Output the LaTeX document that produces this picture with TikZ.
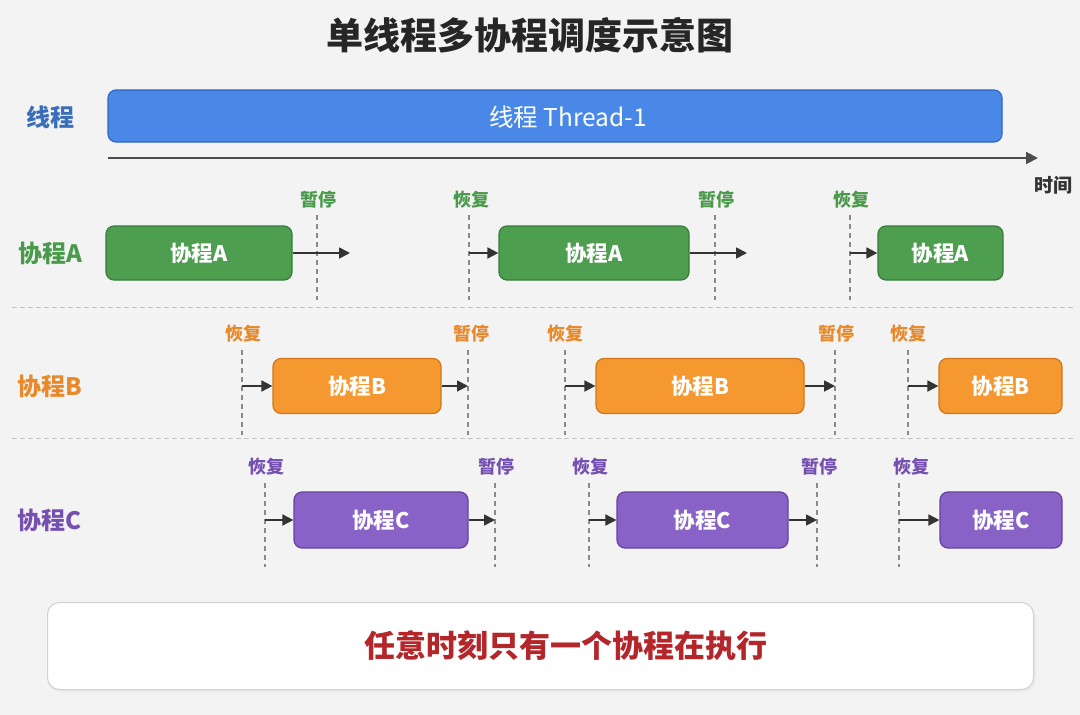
\documentclass[tikz,border=0pt]{standalone}
\usepackage{fontspec}
\setmainfont{Noto Sans CJK SC}
\usetikzlibrary{arrows.meta}
\definecolor{bgc}{HTML}{F3F3F3}
\definecolor{blueF}{HTML}{4A88E8}
\definecolor{blueD}{HTML}{2E66C2}
\definecolor{blueT}{HTML}{3A6EBA}
\definecolor{greenF}{HTML}{4E9E50}
\definecolor{greenD}{HTML}{377A39}
\definecolor{greenT}{HTML}{4A9A4C}
\definecolor{orangeF}{HTML}{F4982F}
\definecolor{orangeD}{HTML}{D2761A}
\definecolor{orangeT}{HTML}{E8892B}
\definecolor{purpleF}{HTML}{8862C6}
\definecolor{purpleD}{HTML}{6443A3}
\definecolor{purpleT}{HTML}{7650B0}
\definecolor{redT}{HTML}{B3262A}
\definecolor{arrowc}{HTML}{333333}
\definecolor{dashc}{HTML}{8A8A8A}
\definecolor{sepc}{HTML}{C4C4C4}
\begin{document}
\begin{tikzpicture}[x=1pt,y=-1pt,
  cobox/.style={rounded corners=8pt, line width=1.2pt, text=white, font=\fontsize{21.5}{25}\selectfont\bfseries, inner sep=0pt},
  boxA/.style={cobox, fill=greenF, draw=greenD, minimum height=54pt},
  boxB/.style={cobox, fill=orangeF, draw=orangeD, minimum height=55pt},
  boxC/.style={cobox, fill=purpleF, draw=purpleD, minimum height=56pt},
  rowlbl/.style={font=\fontsize{24}{28}\selectfont\bfseries, inner sep=0pt},
  marklbl/.style={font=\fontsize{18}{21}\selectfont\bfseries, inner sep=0pt},
  vdash/.style={draw=dashc, line width=1.1pt, dash pattern=on 5pt off 4pt},
  flow/.style={draw=arrowc, line width=1.8pt, -{Triangle[length=11pt,width=11pt]}},
  sep/.style={draw=sepc, line width=1pt, dash pattern=on 5pt off 3pt}
]
\fill[bgc] (0,0) rectangle (1080,715);
\useasboundingbox (0,0) rectangle (1080,715);

% title
\node[font=\fontsize{37}{42}\selectfont\bfseries, text=black!85] (title) at (530,35) {单线程多协程调度示意图};

% thread row
\node[rowlbl, text=blueT] (lt) at (51,117) {线程};
\node[rounded corners=8pt, fill=blueF, draw=blueD, line width=1.2pt, minimum width=894pt, minimum height=52pt] (thread) at (555,116) {};
\node[text=white, font=\fontsize{24.5}{28}\selectfont, inner sep=0pt] (threadtxt) at (568,117) {线程 Thread-1};
\coordinate (t0) at (108,158);
\coordinate (t1) at (1038,158);
\draw[draw=black!70, line width=2pt, -{Triangle[length=12pt,width=12pt]}] (t0) -- (t1);
\node[font=\fontsize{19}{22}\selectfont\bfseries, text=black!80] (time) at (1053,185) {时间};

% separators
\coordinate (s1a) at (12,307); \coordinate (s1b) at (1075,307);
\coordinate (s2a) at (12,438); \coordinate (s2b) at (1075,438);
\draw[sep] (s1a) -- (s1b);
\draw[sep] (s2a) -- (s2b);

% ---------- Row A ----------
\node[rowlbl, text=greenT] (la) at (50,253) {协程A};
\node[boxA, minimum width=186pt] (a1) at (199,253) {协程A};
\node[boxA, minimum width=190pt] (a2) at (594,253) {协程A};
\node[boxA, minimum width=125pt] (a3) at (940.5,253) {协程A};
\coordinate (ap1t) at (317,215); \coordinate (ap1b) at (317,300);
\coordinate (ar1t) at (469,215); \coordinate (ar1b) at (469,300);
\coordinate (ap2t) at (715,215); \coordinate (ap2b) at (715,300);
\coordinate (ar2t) at (850,215); \coordinate (ar2b) at (850,300);
\draw[vdash] (ap1t) -- (ap1b);
\draw[vdash] (ar1t) -- (ar1b);
\draw[vdash] (ap2t) -- (ap2b);
\draw[vdash] (ar2t) -- (ar2b);
\node[marklbl, text=greenT] (apl1) at (318,200) {暂停};
\node[marklbl, text=greenT] (arl1) at (471,200) {恢复};
\node[marklbl, text=greenT] (apl2) at (716,200) {暂停};
\node[marklbl, text=greenT] (arl2) at (851,200) {恢复};
\coordinate (ae1) at (350,253);
\coordinate (ae2) at (747,253);
\coordinate (as1) at (469,253);
\coordinate (as2) at (850,253);
\draw[flow] (a1.east) -- (ae1);
\draw[flow] (as1) -- (a2.west);
\draw[flow] (a2.east) -- (ae2);
\draw[flow] (as2) -- (a3.west);

% ---------- Row B ----------
\node[rowlbl, text=orangeT] (lb) at (50,386) {协程B};
\node[boxB, minimum width=168pt] (b1) at (357,386) {协程B};
\node[boxB, minimum width=208pt] (b2) at (700,386) {协程B};
\node[boxB, minimum width=123pt] (b3) at (1000.5,386) {协程B};
\coordinate (br1t) at (242,350); \coordinate (br1b) at (242,435);
\coordinate (bp1t) at (468,350); \coordinate (bp1b) at (468,435);
\coordinate (br2t) at (565,350); \coordinate (br2b) at (565,435);
\coordinate (bp2t) at (835,350); \coordinate (bp2b) at (835,435);
\coordinate (br3t) at (908,350); \coordinate (br3b) at (908,435);
\draw[vdash] (br1t) -- (br1b);
\draw[vdash] (bp1t) -- (bp1b);
\draw[vdash] (br2t) -- (br2b);
\draw[vdash] (bp2t) -- (bp2b);
\draw[vdash] (br3t) -- (br3b);
\node[marklbl, text=orangeT] (brl1) at (243,334) {恢复};
\node[marklbl, text=orangeT] (bpl1) at (471,334) {暂停};
\node[marklbl, text=orangeT] (brl2) at (565,334) {恢复};
\node[marklbl, text=orangeT] (bpl2) at (836,334) {暂停};
\node[marklbl, text=orangeT] (brl3) at (908,334) {恢复};
\coordinate (bs1) at (242,386); \coordinate (be1) at (468,386);
\coordinate (bs2) at (565,386); \coordinate (be2) at (835,386);
\coordinate (bs3) at (908,386);
\draw[flow] (bs1) -- (b1.west);
\draw[flow] (b1.east) -- (be1);
\draw[flow] (bs2) -- (b2.west);
\draw[flow] (b2.east) -- (be2);
\draw[flow] (bs3) -- (b3.west);

% ---------- Row C ----------
\node[rowlbl, text=purpleT] (lc) at (50,520) {协程C};
\node[boxC, minimum width=174pt] (c1) at (381,520) {协程C};
\node[boxC, minimum width=171pt] (c2) at (702.5,520) {协程C};
\node[boxC, minimum width=122pt] (c3) at (1001,520) {协程C};
\coordinate (cr1t) at (265,483); \coordinate (cr1b) at (265,567);
\coordinate (cp1t) at (495,483); \coordinate (cp1b) at (495,567);
\coordinate (cr2t) at (589,483); \coordinate (cr2b) at (589,567);
\coordinate (cp2t) at (817,483); \coordinate (cp2b) at (817,567);
\coordinate (cr3t) at (899,483); \coordinate (cr3b) at (899,567);
\draw[vdash] (cr1t) -- (cr1b);
\draw[vdash] (cp1t) -- (cp1b);
\draw[vdash] (cr2t) -- (cr2b);
\draw[vdash] (cp2t) -- (cp2b);
\draw[vdash] (cr3t) -- (cr3b);
\node[marklbl, text=purpleT] (crl1) at (266,467) {恢复};
\node[marklbl, text=purpleT] (cpl1) at (496,467) {暂停};
\node[marklbl, text=purpleT] (crl2) at (590,467) {恢复};
\node[marklbl, text=purpleT] (cpl2) at (819,467) {暂停};
\node[marklbl, text=purpleT] (crl3) at (911,467) {恢复};
\coordinate (cs1) at (265,520); \coordinate (ce1) at (495,520);
\coordinate (cs2) at (589,520); \coordinate (ce2) at (817,520);
\coordinate (cs3) at (899,520);
\draw[flow] (cs1) -- (c1.west);
\draw[flow] (c1.east) -- (ce1);
\draw[flow] (cs2) -- (c2.west);
\draw[flow] (c2.east) -- (ce2);
\draw[flow] (cs3) -- (c3.west);

% ---------- bottom note ----------
\fill[black!8, rounded corners=12pt] (48,605) rectangle (1036,692);
\node[rounded corners=12pt, fill=white, draw=black!18, line width=1pt, minimum width=986pt, minimum height=87pt] (note) at (540.5,646) {};
\node[text=redT, font=\fontsize{31}{36}\selectfont\bfseries, inner sep=0pt] (notetxt) at (566,646) {任意时刻只有一个协程在执行};
\end{tikzpicture}
\end{document}
